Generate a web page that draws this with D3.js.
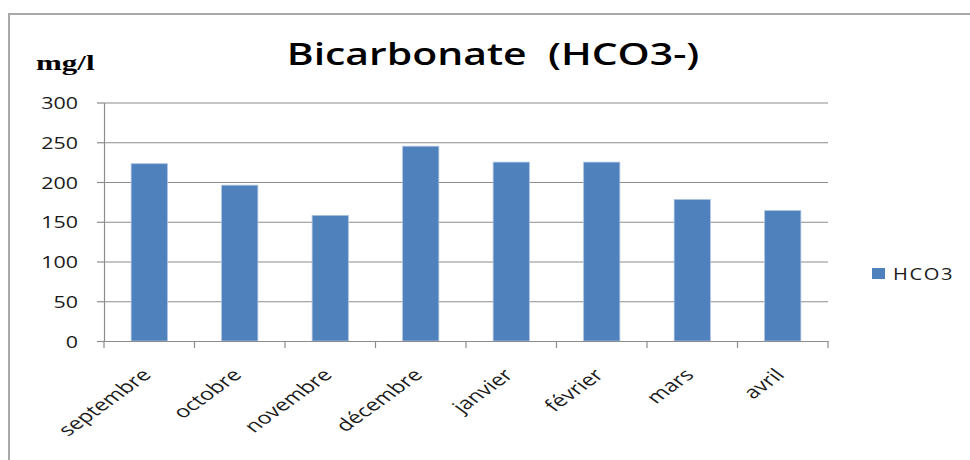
<!DOCTYPE html>
<html>
<head>
<meta charset="utf-8">
<script src="https://cdn.jsdelivr.net/npm/d3@7"></script>
<style>
  html, body { margin: 0; padding: 0; background: #fff; }
  svg { display: block; }
</style>
</head>
<body>
<script>
const months = ["septembre", "octobre", "novembre", "décembre", "janvier", "février", "mars", "avril"];
const hco3 = [223, 196, 158, 245, 225, 225, 178, 164];
const yTicks = [0, 50, 100, 150, 200, 250, 300];
const seriesName = "HCO3";
const titleText = "Bicarbonate  (HCO3-)";
const unitText = "mg/l";

const W = 970, H = 460;
const svg = d3.select("body").append("svg").attr("width", W).attr("height", H);

const pLeft = 104, pRight = 828, pTop = 102.5, pBottom = 341;
const SX = 1.3; // horizontal stretch of the text in the reference

const x = d3.scaleBand().domain(months).range([pLeft, pRight]).paddingInner(0.6).paddingOuter(0.3);
const y = d3.scaleLinear().domain([0, 300]).range([pBottom, pTop]);

// outer chart border (top and left visible)
svg.append("path")
  .attr("d", `M9,${H} L9,14 L${W},14`)
  .attr("fill", "none").attr("stroke", "#a9a9a9").attr("stroke-width", 2);

// gridlines
const grid = svg.append("g").attr("transform", `translate(${pLeft},0)`)
  .call(d3.axisLeft(y).tickValues(yTicks).tickSize(-(pRight - pLeft)).tickFormat(""));
grid.select(".domain").remove();
grid.selectAll("line").attr("stroke", "#8c8c8c").attr("stroke-width", 1.2);

// y axis
const yAx = svg.append("g").attr("transform", `translate(${pLeft},0)`)
  .call(d3.axisLeft(y).tickValues(yTicks).tickSize(7).tickSizeOuter(0));
yAx.select(".domain").attr("stroke", "#8c8c8c").attr("stroke-width", 1.2);
yAx.selectAll("line").attr("stroke", "#8c8c8c").attr("stroke-width", 1.2);
yAx.selectAll("text")
  .attr("x", null).attr("dy", null)
  .attr("transform", `translate(-26,6) scale(${SX},1)`)
  .attr("text-anchor", "end")
  .attr("font-family", "'Open Sans', sans-serif")
  .attr("font-size", 16.5)
  .attr("fill", "#1a1a1a");

// bars
svg.append("g").selectAll("rect").data(months).join("rect")
  .attr("x", d => x(d))
  .attr("y", (d, i) => y(hco3[i]))
  .attr("width", x.bandwidth())
  .attr("height", (d, i) => y(0) - y(hco3[i]))
  .attr("fill", "#4f81bd")
  .attr("stroke", "#a9c1e0").attr("stroke-width", 0.8);

// x axis
const xAx = svg.append("g").attr("transform", `translate(0,${pBottom})`)
  .call(d3.axisBottom(x).tickSize(0).tickSizeOuter(0));
xAx.select(".domain").attr("stroke", "#8c8c8c").attr("stroke-width", 1.2);
const off = x.step() * x.paddingInner() / 2;
const bounds = months.map(m => x(m) - off).concat([x(months[months.length - 1]) + x.bandwidth() + off]);
xAx.selectAll(".bound").data(bounds).join("line").attr("class", "bound")
  .attr("x1", d => d).attr("x2", d => d).attr("y1", 0).attr("y2", 7)
  .attr("stroke", "#8c8c8c").attr("stroke-width", 1.2);
xAx.selectAll(".tick text")
  .attr("y", null).attr("dy", null)
  .attr("transform", `translate(3,35) scale(1.38,1) rotate(-45)`)
  .attr("text-anchor", "end")
  .attr("font-family", "'Open Sans', sans-serif")
  .attr("font-size", 17)
  .attr("fill", "#1a1a1a");

// title
svg.append("text")
  .attr("transform", `translate(493,65) scale(1.32,1)`)
  .attr("text-anchor", "middle")
  .style("white-space", "pre")
  .attr("font-family", "'Open Sans', sans-serif")
  .attr("font-weight", 600)
  .attr("font-size", 31)
  .attr("fill", "#000")
  .text(titleText);

// unit label
svg.append("text")
  .attr("transform", `translate(36,70) scale(1.55,1)`)
  .attr("font-family", "'Liberation Serif', serif")
  .attr("font-weight", "bold")
  .attr("font-size", 20)
  .attr("fill", "#000")
  .text(unitText);

// legend
const lg = svg.append("g");
lg.append("rect").attr("x", 872).attr("y", 268).attr("width", 13).attr("height", 11).attr("fill", "#4f81bd");
lg.append("text")
  .attr("transform", `translate(893,280) scale(${SX},1)`)
  .attr("font-family", "'Open Sans', sans-serif")
  .attr("font-size", 15.5)
  .attr("letter-spacing", 1.2)
  .attr("fill", "#1a1a1a")
  .text(seriesName);
</script>
</body>
</html>
